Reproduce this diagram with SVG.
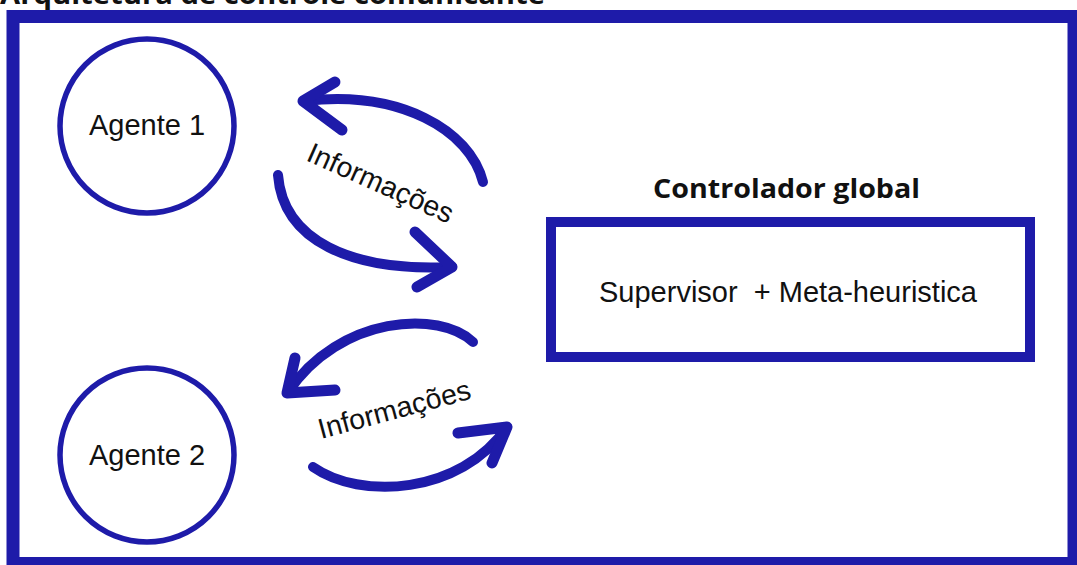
<svg xmlns="http://www.w3.org/2000/svg" width="1077" height="565" viewBox="0 0 1077 565">
<style>
.blue{fill:none;stroke:#1e1ba9;}
.sans{font-family:"Liberation Sans",Arial,sans-serif;fill:#111;}
.bold{font-family:"Open Sans","DejaVu Sans",sans-serif;font-weight:bold;fill:#111;}
.arc{fill:none;stroke:#1e1ba9;stroke-width:10;stroke-linecap:round;stroke-linejoin:round;}
.head{fill:none;stroke:#1e1ba9;stroke-width:11;stroke-linecap:round;stroke-linejoin:round;}
</style>
<rect width="1077" height="565" fill="#fff"/>
<text class="bold" x="0" y="4" font-size="26" textLength="545" lengthAdjust="spacingAndGlyphs">Arquitetura de controle comunicante</text>
<g id="frame">
<rect x="13" y="16.5" width="1061" height="547" class="blue" stroke-width="13"/>
</g>
<g id="agente1">
<circle cx="147" cy="126" r="87" class="blue" stroke-width="5.5"/>
<text class="sans" x="89" y="135" font-size="29">Agente 1</text>
</g>
<g id="agente2">
<circle cx="147" cy="455" r="87" class="blue" stroke-width="5.5"/>
<text class="sans" x="89" y="465" font-size="29">Agente 2</text>
</g>
<g id="controlador">
<text class="bold" x="653" y="198" font-size="27" textLength="267" lengthAdjust="spacingAndGlyphs">Controlador global</text>
<rect x="551" y="222" width="479" height="135" class="blue" stroke-width="10"/>
<text class="sans" x="599" y="302" font-size="29" xml:space="preserve">Supervisor  + Meta-heuristica</text>
</g>
<g id="connectors">
<path class="arc" d="M483,182 C470,130 400,90 305,101"/>
<path class="head" d="M335,82 L303,101 L342,130"/>
<path class="arc" d="M278,175 C283,240 350,272 452,267"/>
<path class="head" d="M415,232 L452,267 L417,287"/>
<path class="arc" d="M473,342 C440,310 340,315 288,392"/>
<path class="head" d="M295,358 L287,393 L335,390"/>
<path class="arc" d="M313,467 C360,500 460,495 507,427"/>
<path class="head" d="M458,433 L507,427 L492,463"/>
<text class="sans" font-size="28.5" transform="translate(305,160) rotate(24)">Informações</text>
<text class="sans" font-size="28.5" transform="translate(321,439) rotate(-15)">Informações</text>
</g>
</svg>
